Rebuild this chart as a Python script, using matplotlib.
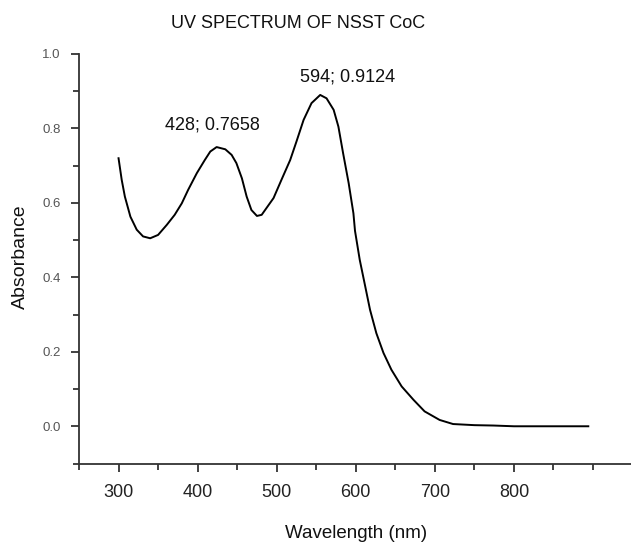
import matplotlib
matplotlib.use("Agg")
import matplotlib.pyplot as plt
from matplotlib.ticker import MultipleLocator

plt.rcParams['font.family'] = ['Liberation Sans', 'DejaVu Sans']

# wavelength (nm) and absorbance
wavelength = [300, 304, 308, 315, 323, 331, 340, 350, 361, 371, 380, 388, 399,
              409, 416, 424, 435, 443, 449, 456, 462, 468, 475, 481, 487,
              496, 506, 517, 525, 534, 544, 555, 563, 572, 578, 584, 591,
              597, 599, 605, 612, 618, 626, 635, 645, 658, 673, 687, 706,
              723, 750, 774, 800, 837, 870, 894]
absorbance = [0.720, 0.662, 0.617, 0.563, 0.528, 0.510, 0.505, 0.514, 0.541,
              0.568, 0.599, 0.635, 0.680, 0.715, 0.738, 0.750, 0.744, 0.729,
              0.707, 0.666, 0.617, 0.581, 0.565, 0.568, 0.586, 0.613, 0.662,
              0.715, 0.765, 0.823, 0.868, 0.890, 0.881, 0.850, 0.805, 0.733,
              0.653, 0.572, 0.525, 0.447, 0.375, 0.313, 0.250, 0.197, 0.152,
              0.107, 0.071, 0.040, 0.017, 0.006, 0.003, 0.002, 0.000, 0.000,
              0.000, 0.000]

peak_labels = ["428; 0.7658", "594; 0.9124"]
peak_label_pos = [(419, 0.809), (590, 0.937)]

fig = plt.figure(figsize=(6.31, 5.43), dpi=100)
ax = fig.add_axes([79 / 631, 1 - 463.5 / 543, 552 / 631, (463.5 - 54) / 543])

ax.plot(wavelength, absorbance, color='black', lw=1.4, solid_joinstyle='round')

ax.set_xlim(250, 948)
ax.set_ylim(-0.1, 1.0)

for s in ['top', 'right']:
    ax.spines[s].set_visible(False)
for s in ['left', 'bottom']:
    ax.spines[s].set_color('#333333')
    ax.spines[s].set_linewidth(1.3)

ax.xaxis.set_minor_locator(MultipleLocator(50))
ax.yaxis.set_minor_locator(MultipleLocator(0.1))
ax.set_xticks([300, 400, 500, 600, 700, 800])
ax.set_xticklabels(['300', '400', '500', '600', '700', '800'])
ax.set_yticks([0.0, 0.2, 0.4, 0.6, 0.8, 1.0])
ax.set_yticklabels(['0.0', '0.2', '0.4', '0.6', '0.8', '1.0'])

ax.tick_params(axis='x', which='major', length=6, width=1.3, pad=9,
               labelsize=13, labelcolor='#222222', color='#333333')
ax.tick_params(axis='x', which='minor', length=4, width=1.3, color='#333333')
ax.tick_params(axis='y', which='major', length=6, width=1.3, pad=7,
               labelsize=9.5, labelcolor='#555555', color='#333333')
ax.tick_params(axis='y', which='minor', length=4, width=1.3, color='#333333')

for txt, (px, py) in zip(peak_labels, peak_label_pos):
    ax.text(px, py, txt, ha='center', va='center', fontsize=13, color='#111111')

fig.text(298.5 / 631, 1 - 23 / 543, 'UV SPECTRUM OF NSST CoC', ha='center',
         va='center', fontsize=13, color='#111111')
fig.text(20 / 631, 1 - 257 / 543, 'Absorbance', rotation=90, ha='center',
         va='center', fontsize=14, color='#111111')
fig.text(356 / 631, 1 - 533 / 543, 'Wavelength (nm)', ha='center',
         va='center', fontsize=13.5, color='#111111')

fig.savefig('out.png', dpi=100, facecolor='white')
